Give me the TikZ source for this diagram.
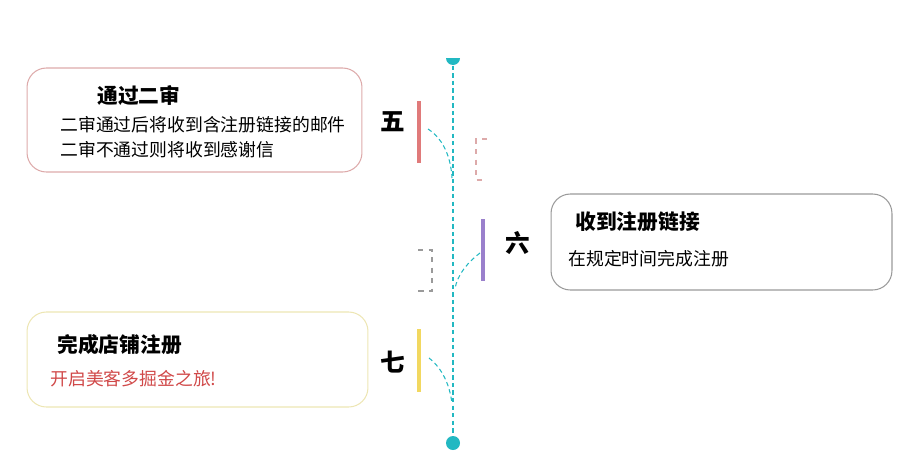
\documentclass[tikz,border=0pt]{standalone}
\usepackage{fontspec}
\setmainfont{Noto Sans CJK SC}
\usetikzlibrary{positioning,shapes}
\definecolor{axiscyan}{HTML}{22B8C2}
\definecolor{barred}{HTML}{E07A7A}
\definecolor{barpurple}{HTML}{9A80CC}
\definecolor{baryellow}{HTML}{F2D860}
\definecolor{edgered}{HTML}{DDAAAA}
\definecolor{edgegray}{HTML}{9A9A9A}
\definecolor{edgeyellow}{HTML}{EDE6B4}
\definecolor{textred}{HTML}{D04848}

\begin{document}
\begin{tikzpicture}[x=0.02cm,y=-0.02cm,
  card/.style={draw,rounded corners=11pt,line width=0.6pt,inner sep=0pt},
  title/.style={anchor=west,inner sep=0pt,font=\fontsize{11.8}{13}\selectfont\bfseries},
  body/.style={anchor=west,inner sep=0pt,font=\fontsize{10.15}{12}\selectfont},
  bar/.style={rectangle,inner sep=0pt,minimum width=0.08cm,minimum height=1.26cm},
  stage/.style={inner sep=0pt,font=\fontsize{14}{16}\selectfont\bfseries},
  trail/.style={dashed,axiscyan,line width=0.6pt,dash pattern=on 2.5pt off 1.8pt}]

  \useasboundingbox (0,0) rectangle (916,460);

  % Cards
  \node[card,draw=edgered,minimum width=6.7cm,minimum height=2.08cm] (c5) at (194.5,120) {};
  \node[card,draw=edgegray,minimum width=6.82cm,minimum height=1.92cm] (c6) at (721.5,242) {};
  \node[card,draw=edgeyellow,minimum width=6.82cm,minimum height=1.9cm] (c7) at (197.5,359.5) {};

  \node[title] (t5) at (97,95) {通过二审};
  \node[body] (l5a) at (60,125) {二审通过后将收到含注册链接的邮件};
  \node[body] (l5b) at (60,150) {二审不通过则将收到感谢信};
  \node[title] (t6) at (575,222) {收到注册链接};
  \node[body] (l6) at (568,259) {在规定时间完成注册};
  \node[title] (t7) at (57,345) {完成店铺注册};
  \node[body,text=textred] (l7) at (50,379) {开启美客多掘金之旅!};

  % Axis
  \coordinate (top) at (453,58);
  \node[circle,fill=axiscyan,inner sep=0pt,minimum size=0.28cm] (bot) at (453,443) {};
  \fill[axiscyan] (446,58) arc (180:0:7) -- cycle;
  \draw[trail] (top) -- (bot);

  % Stages
  \foreach \n/\x/\y/\c/\lx/\ly/\lab in {5/419/132/barred/393/122/五,
      6/483/250/barpurple/518/243/六, 7/419/360/baryellow/393/362/七} {
    \node[bar,fill=\c] (s\n) at (\x,\y) {};
    \node[stage] (k\n) at (\lx,\ly) {\lab};
  }

  \coordinate (a5) at (428,129);
  \coordinate (j5) at (452,178);
  \coordinate (a6) at (480,253);
  \coordinate (j6) at (455,289);
  \coordinate (a7) at (429,358);
  \coordinate (j7) at (452,404);
  \draw[trail] (a5) .. controls (445,140) and (451,160) .. (j5);
  \draw[trail] (a6) .. controls (468,262) and (457,275) .. (j6);
  \draw[trail] (a7) .. controls (442,368) and (450,385) .. (j7);

  % Brackets
  \draw[edgered,dashed,line width=0.6pt] (487,139) -- (476,139) -- (476,180) -- (487,180);
  \draw[edgegray,dashed,line width=0.6pt] (418,250) -- (432,250) -- (432,291) -- (418,291);
\end{tikzpicture}
\end{document}
